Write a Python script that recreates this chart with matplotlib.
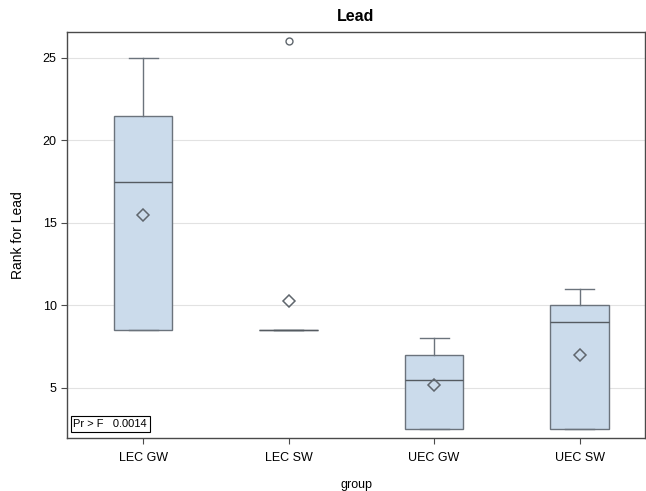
import matplotlib
matplotlib.use("Agg")
import matplotlib.pyplot as plt

plt.rcParams['font.family'] = ['Liberation Sans', 'DejaVu Sans']

# Box statistics
groups = ["LEC GW", "LEC SW", "UEC GW", "UEC SW"]
whislo = [8.5, 8.5, 2.5, 2.5]
q1 = [8.5, 8.5, 2.5, 2.5]
med = [17.5, 8.5, 5.5, 9.0]
q3 = [21.5, 8.5, 7.0, 10.0]
whishi = [25.0, 8.5, 8.0, 11.0]
means = [15.5, 10.25, 5.2, 7.0]
fliers = [[], [26.0], [], []]
y_ticks = [5, 10, 15, 20, 25]


def main():
    stats = []
    for i, g in enumerate(groups):
        stats.append({"label": g, "whislo": whislo[i], "q1": q1[i],
                      "med": med[i], "q3": q3[i], "whishi": whishi[i],
                      "mean": means[i], "fliers": fliers[i]})

    fig = plt.figure(figsize=(6.46, 4.91), dpi=100)
    ax = fig.add_axes([0.1037, 0.108, 0.8948, 0.827])

    edge = "#6b737c"
    ax.bxp(stats, positions=range(len(groups)), widths=0.4,
           patch_artist=True, showmeans=True, showfliers=True,
           boxprops=dict(facecolor="#cbdbeb", edgecolor=edge, linewidth=1.0),
           medianprops=dict(color="#555b61", linewidth=1.0),
           whiskerprops=dict(color=edge, linewidth=1.0),
           capprops=dict(color=edge, linewidth=1.0),
           capwidths=0.2,
           meanprops=dict(marker="D", markerfacecolor="none",
                          markeredgecolor="#5f666d", markersize=6,
                          markeredgewidth=1.1),
           flierprops=dict(marker="o", markerfacecolor="none",
                           markeredgecolor="#5f666d", markersize=5,
                           markeredgewidth=1.0))

    ax.set_xlim(-0.523, 3.45)
    ax.set_ylim(1.97, 26.58)
    ax.set_yticks(y_ticks)
    ax.yaxis.grid(True, color="#e2e2e2", linewidth=0.8)
    ax.set_axisbelow(True)
    for s in ax.spines.values():
        s.set_color("#4a4a4a")
        s.set_linewidth(1.0)
    ax.tick_params(labelsize=9, color="#4a4a4a", length=4)
    ax.tick_params(axis="x", pad=6)

    ax.set_title("Lead", fontsize=11.5, fontweight="bold", pad=8)
    ax.set_ylabel("Rank for Lead", fontsize=10, labelpad=13)
    ax.set_xlabel("group", fontsize=9, labelpad=11)

    ax.text(0.011, 0.022, "Pr > F   0.0014", transform=ax.transAxes,
            fontsize=8, ha="left", va="bottom",
            bbox=dict(boxstyle="square,pad=0.25", facecolor="white",
                      edgecolor="black", linewidth=0.8))

    fig.savefig("out.png", dpi=100)


if __name__ == "__main__":
    main()
